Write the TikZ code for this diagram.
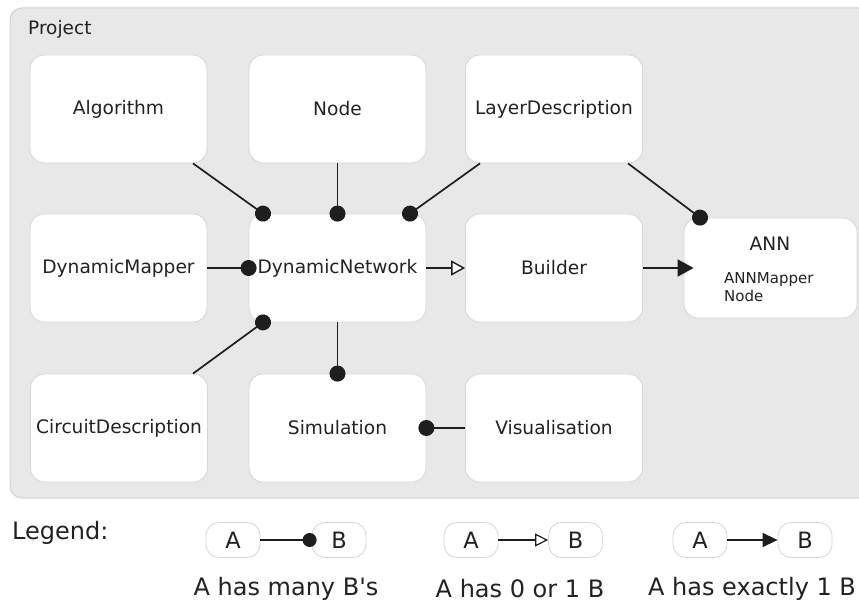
\documentclass[tikz,border=0pt]{standalone}
\usepackage{fontspec}
\setmainfont{DejaVu Sans}
\usetikzlibrary{arrows.meta}
\definecolor{bgfill}{HTML}{E8E8E8}
\definecolor{bgline}{HTML}{D2D2D2}
\definecolor{boxline}{HTML}{D6D6D6}
\definecolor{txt}{HTML}{222222}
\definecolor{lin}{HTML}{1E1E1E}
\begin{document}
\begin{tikzpicture}[x=1pt,y=-1pt,
  box/.style={draw=boxline, fill=white, rounded corners=14pt, minimum width=177pt, minimum height=108pt,
    line width=0.8pt, font=\fontsize{18.6}{22}\selectfont, text=txt, inner sep=0pt},
  lbox/.style={draw=boxline, fill=white, rounded corners=13pt, minimum width=54pt, minimum height=35pt,
    line width=0.8pt, font=\fontsize{22.5}{26}\selectfont, text=txt, inner sep=0pt},
  lbl/.style={font=\fontsize{24}{28}\selectfont, text=txt, inner sep=0pt},
  many/.style={draw=lin, line width=1.7pt, -{Circle[length=16pt]}, shorten >=-8pt},
  opt/.style={draw=lin, line width=1.7pt, -{Triangle[open, fill=white, length=14pt, width=15pt, line width=1.4pt]}},
  one/.style={draw=lin, line width=1.7pt, -{Triangle[length=16pt, width=17pt]}, shorten >=-10pt},
  lmany/.style={draw=lin, line width=1.4pt, -{Circle[length=14pt]}, shorten >=-5pt},
  lopt/.style={draw=lin, line width=1.4pt, -{Triangle[open, fill=white, length=13pt, width=13pt, line width=1.2pt]}},
  lone/.style={draw=lin, line width=1.4pt, -{Triangle[length=15pt, width=14pt]}}
]
\clip (0,0) rectangle (859,604);
\fill[white] (0,0) rectangle (859,604);
\draw[fill=bgfill, draw=bgline, line width=1pt, rounded corners=12pt] (10,8) rectangle (880,498);
\node[anchor=west, font=\fontsize{18.5}{22}\selectfont, text=txt, inner sep=0pt] (project) at (28,29) {Project};

\node[box] (alg) at (118.5,109) {Algorithm};
\node[box] (nd) at (337.5,109) {Node};
\node[box] (ld) at (554,109) {LayerDescription};
\node[box] (dm) at (118.5,268) {DynamicMapper};
\node[box] (dn) at (337.5,268) {DynamicNetwork};
\node[box] (bld) at (554,268) {Builder};
\node[box, minimum width=173pt, minimum height=100pt] (ann) at (770.5,268) {};
\node[font=\fontsize{18.6}{22}\selectfont, text=txt, inner sep=0pt] (anntitle) at (770,244) {ANN};
\node[anchor=north west, align=left, font=\fontsize{15}{18}\selectfont, text=txt, inner sep=0pt] (annitems) at (724,272) {ANNMapper\\Node};
\node[box] (cd) at (119,428) {CircuitDescription};
\node[box] (sim) at (337.5,428) {Simulation};
\node[box] (vis) at (554,428) {Visualisation};

\draw[many] ([xshift=74.5pt]alg.south) -- ([xshift=-74.5pt]dn.north);
\draw[many] (nd.south) -- (dn.north);
\draw[many] ([xshift=-74pt]ld.south) -- ([xshift=72.5pt]dn.north);
\draw[many] ([xshift=74pt]ld.south) -- ([xshift=-70.5pt]ann.north);
\draw[many] (dm.east) -- (dn.west);
\draw[opt] (dn.east) -- (bld.west);
\draw[one] (bld.east) -- (ann.west);
\draw[many] ([xshift=74pt]cd.north) -- ([xshift=-74.5pt]dn.south);
\draw[many] (dn.south) -- (sim.north);
\draw[many] (vis.west) -- (sim.east);

\node[lbl, anchor=west] (legend) at (12,533) {Legend:};
\node[lbox] (la1) at (233,540) {A};
\node[lbox] (lb1) at (339,540) {B};
\node[lbox] (la2) at (471,540) {A};
\node[lbox] (lb2) at (575.5,540) {B};
\node[lbox] (la3) at (700,540) {A};
\node[lbox] (lb3) at (805,540) {B};
\draw[lmany] (la1.east) -- (lb1.west);
\draw[lopt] (la2.east) -- (lb2.west);
\draw[lone] (la3.east) -- (lb3.west);
\node[lbl] (cap1) at (286,589) {A has many B\textquotesingle s};
\node[lbl] (cap2) at (520,589) {A has 0 or 1 B};
\node[lbl] (cap3) at (752,589) {A has exactly 1 B};
\end{tikzpicture}
\end{document}
